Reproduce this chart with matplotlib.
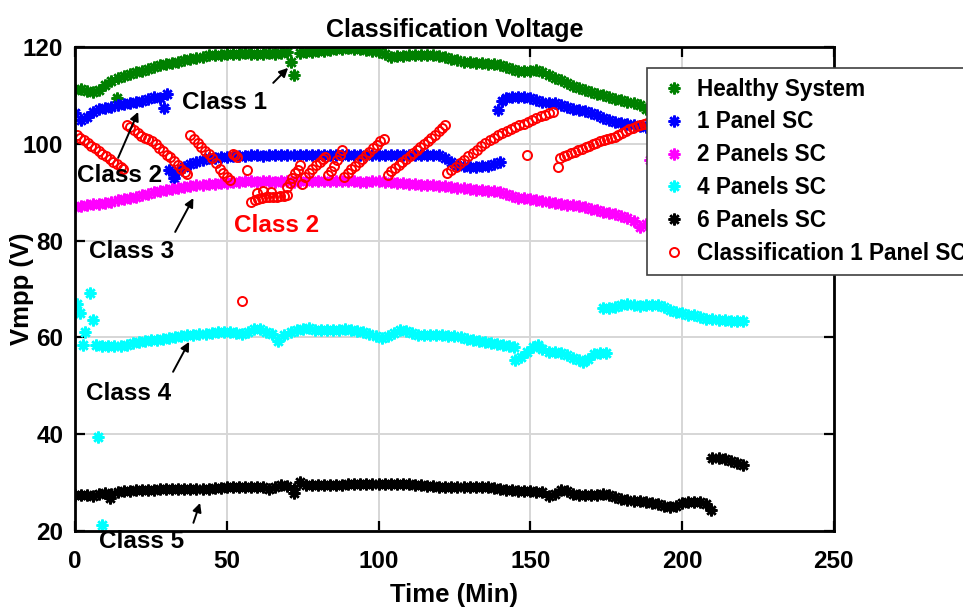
import numpy as np
import matplotlib
matplotlib.use("Agg")
import matplotlib.pyplot as plt

plt.rcParams['font.family'] = ['Liberation Sans', 'DejaVu Sans']
plt.rcParams['font.weight'] = 'bold'
plt.rcParams['axes.labelweight'] = 'bold'
plt.rcParams['axes.titleweight'] = 'bold'

# ---------------- data (Time in min, Vmpp in V) ----------------
green_t_a = np.arange(0, 71, 2)
green_v_a = [111.2, 111.4, 111.0, 110.7, 111.2, 112.2, 113.0, 113.6, 114.0, 114.5,
             114.8, 115.1, 115.4, 115.8, 116.3, 116.6, 116.7, 117.0, 117.3, 117.5,
             117.8, 118.0, 118.3, 118.4, 118.4, 118.6, 118.5, 118.6, 118.8, 118.6,
             118.5, 118.6, 118.7, 118.6, 118.8, 119.0]
green_t_b = np.arange(74, 221, 2)
green_v_b = [118.8, 118.9, 119.0, 119.1, 119.2, 119.3, 119.5, 119.7, 119.8, 119.7,
             119.5, 119.4, 119.2, 119.0, 118.6, 118.0, 118.1, 118.2, 118.3, 118.3,
             118.3, 118.4, 118.3, 118.1, 117.9, 117.6, 117.3, 117.0, 116.9, 116.8,
             116.7, 116.6, 116.4, 116.2, 115.9, 115.5, 115.1, 115.0, 115.1, 115.2,
             114.8, 114.2, 113.7, 113.1, 112.5, 112.0, 111.6, 111.1, 110.7, 110.3,
             110.0, 109.7, 109.3, 109.0, 108.7, 108.5, 108.0, 107.3, 107.0, 106.7,
             106.4, 106.1, 105.9, 105.7, 105.4, 105.2, 105.0, 104.8, 104.6, 104.4,
             104.2, 104.0, 103.9, 103.8]
green_t_c = [13.8, 71.0, 72.2]
green_v_c = [109.5, 117.0, 114.2]

blue_t_a = np.arange(0, 29, 2)
blue_v_a = [106.3, 105.0, 105.6, 106.6, 107.1, 107.4, 107.7, 108.0, 108.3, 108.5,
            108.7, 108.9, 109.2, 109.6, 109.5]
blue_t_x = [29.2, 30.4]
blue_v_x = [107.5, 110.4]
blue_t_b = np.concatenate([[31, 32.5], np.arange(34, 141, 2)])
blue_v_b = [94.6, 92.9,
            94.3, 95.3, 95.8, 96.2, 96.6, 97.0, 97.1, 97.2, 97.3, 97.4,
            97.5, 97.5, 97.6, 97.6, 97.5, 97.6, 97.7, 97.6, 97.6, 97.7,
            97.7, 97.8, 97.7, 97.7, 97.8, 97.7, 97.7, 97.8, 97.8, 97.8,
            97.7, 97.7, 97.8, 97.8, 97.8, 97.7, 97.8, 97.8, 97.8, 97.8,
            97.7, 97.7, 97.8, 97.7, 97.1, 96.2, 95.7, 95.4, 95.3, 95.2,
            95.4, 95.5, 95.8, 96.3]
blue_t_c = np.concatenate([[139.2, 140.6], np.arange(142, 221, 2)])
blue_v_c = [107.0, 108.8,
            109.5, 109.7, 109.7, 109.6, 109.5, 109.0, 108.6, 108.4, 108.4, 108.0,
            107.6, 107.2, 107.0, 106.7, 106.3, 105.9, 105.4, 105.0, 104.6, 104.3,
            104.1, 103.9, 103.7, 103.5, 103.4, 103.3, 103.2, 103.1, 103.0, 102.9,
            102.8, 102.8, 102.7, 102.7, 102.6, 102.6, 102.5, 102.5, 102.4, 102.4]

mag_t_a = np.arange(0, 189, 2)
mag_v_a = [87.0, 87.1, 87.3, 87.5, 87.6, 87.8, 88.0, 88.3, 88.6, 88.9,
           89.1, 89.4, 89.7, 90.0, 90.3, 90.5, 90.7, 90.9, 91.1, 91.3,
           91.4, 91.5, 91.7, 91.8, 91.9, 92.0, 92.2, 92.2, 92.3, 92.3,
           92.2, 92.3, 92.3, 92.2, 92.3, 92.3, 92.2, 92.3, 92.4, 92.3,
           92.3, 92.4, 92.3, 92.3, 92.3, 92.3, 92.3, 92.2, 92.2, 92.3,
           92.3, 92.2, 92.1, 92.0, 91.9, 91.8, 91.7, 91.6, 91.5, 91.4,
           91.3, 91.2, 91.1, 90.9, 90.8, 90.6, 90.5, 90.4, 90.3, 90.2,
           90.0, 89.6, 89.2, 88.9, 88.8, 88.6, 88.4, 88.2, 88.0, 87.8,
           87.6, 87.4, 87.3, 87.1, 86.9, 86.6, 86.3, 86.0, 85.8, 85.5,
           85.1, 84.7, 84.0, 82.8, 83.5]
mag_t_b = np.concatenate([[189.5], np.arange(192, 221, 2)])
mag_v_b = [96.7, 96.6, 96.5, 96.4, 96.3, 96.2, 96.1, 96.0, 95.9, 95.8,
           95.7, 95.6, 95.6, 95.5, 95.5, 95.4]

cyan_t_x = [0.6, 1.6, 2.7, 3.3, 4.9, 6.0, 7.7, 8.8]
cyan_v_x = [67.0, 65.0, 58.4, 61.2, 69.1, 63.6, 39.5, 21.2]
cyan_t_a = np.concatenate([np.arange(7, 144, 2), [144.5]])
cyan_v_a = [58.4, 58.2, 58.3, 58.2, 58.2, 58.5, 58.8, 59.0, 59.2, 59.4,
            59.5, 59.6, 59.8, 60.0, 60.3, 60.5, 60.6, 60.7, 60.8, 61.0,
            61.1, 61.2, 61.1, 61.0, 60.8, 61.2, 61.7, 61.8, 61.2, 60.7,
            59.2, 60.5, 61.2, 61.5, 61.8, 61.9, 61.6, 61.5, 61.6, 61.5,
            61.6, 61.7, 61.5, 61.4, 61.2, 60.8, 60.3, 59.9, 60.2, 61.0,
            61.5, 61.4, 61.0, 60.6, 60.5, 60.5, 60.6, 60.5, 60.3, 60.2,
            60.0, 59.7, 59.4, 59.2, 59.0, 58.8, 58.6, 58.5, 58.3, 58.1]
cyan_t_b = [145, 147, 149, 151, 152.5, 154, 156, 158, 160, 162, 164, 166,
            167.5, 169, 171, 173, 175]
cyan_v_b = [55.3, 56.0, 57.0, 58.0, 58.4, 57.6, 57.0, 56.9, 56.8, 56.3, 55.8,
            55.3, 55.0, 55.6, 56.6, 56.8, 56.7]
cyan_t_c = np.arange(174, 221, 2)
cyan_v_c = [66.0, 66.1, 66.3, 66.8, 67.0, 66.6, 66.5, 66.8, 66.8, 66.7,
            66.3, 65.6, 65.3, 65.0, 64.7, 64.6, 64.2, 63.9, 63.8, 63.7,
            63.6, 63.5, 63.4, 63.3]

black_t_a = np.arange(0, 209, 2)
black_v_a = [27.4, 27.5, 27.4, 27.3, 27.6, 27.9, 27.6, 28.0, 28.2, 28.3,
             28.4, 28.5, 28.5, 28.5, 28.6, 28.6, 28.6, 28.6, 28.7, 28.7,
             28.7, 28.7, 28.7, 28.8, 28.9, 29.1, 29.2, 29.2, 29.2, 29.2,
             29.2, 29.1, 28.7, 29.2, 29.6, 29.4, 28.6, 30.2, 29.6, 29.5,
             29.5, 29.6, 29.6, 29.5, 29.6, 29.7, 29.7, 29.7, 29.7, 29.7,
             29.8, 29.7, 29.7, 29.7, 29.7, 29.7, 29.6, 29.5, 29.4, 29.3,
             29.2, 29.2, 29.2, 29.2, 29.2, 29.2, 29.2, 29.1, 29.0, 28.8,
             28.7, 28.5, 28.4, 28.3, 28.3, 28.2, 28.1, 28.0, 27.3, 27.6,
             28.4, 28.2, 27.6, 27.4, 27.5, 27.5, 27.5, 27.6, 27.5, 27.0,
             26.6, 26.4, 26.3, 26.2, 26.0, 25.8, 25.6, 25.2, 25.0, 25.2,
             25.8, 26.0, 26.0, 26.0, 25.5]
black_t_x = [11.5, 72.0, 209.5]
black_v_x = [26.9, 27.9, 24.3]
black_t_b = np.arange(210, 221, 2)
black_v_b = [35.0, 35.1, 34.9, 34.5, 34.0, 33.7]

red_t = [0.6, 1.8, 3.0, 4.2, 5.4, 6.6, 7.8, 9.0, 10.2, 11.4, 12.6, 13.8, 15.0, 15.8,
         17.0, 18.2, 19.4, 20.6, 21.8, 23.0, 24.2, 25.4, 26.6, 27.8, 29.0, 30.2, 31.4,
         32.6, 33.8, 35.0, 36.2, 37.0,
         38.0, 39.2, 40.4, 41.6, 42.8, 44.0, 45.2, 46.4, 47.6, 48.8, 50.0, 51.0,
         52.0, 52.8, 53.5, 55.0, 56.5,
         58.0, 59.2, 60.4, 61.6, 62.8, 64.0, 65.2, 66.4, 67.6, 68.8, 70.0, 60.0, 62.0, 64.5,
         69.9, 70.8, 71.6, 72.5, 73.3, 74.2,
         74.9, 75.8, 77.0, 78.2, 79.4, 80.6, 81.6, 82.4,
         83.4, 84.4, 85.4, 86.4, 87.2, 88.0,
         88.6, 89.8, 91.0, 92.2, 93.4, 94.6, 95.8, 97.0, 98.2, 99.4, 100.6, 101.8,
         103.0, 104.2, 105.4, 106.6, 107.8, 109.0, 110.2, 111.4, 112.6, 113.8, 115.0,
         116.2, 117.4, 118.6, 119.8, 121.0, 122.0,
         122.6, 124.0, 125.4, 126.8, 128.2, 129.6, 131.0, 132.4, 133.8, 135.2, 136.6,
         138.0, 139.4, 140.8, 142.2, 143.6, 145.0, 146.4, 147.8, 149.2, 150.6, 152.0,
         153.4, 154.8, 156.2, 157.6, 149.0,
         159.2, 159.9, 161.0, 162.2, 163.4, 164.6, 165.8, 167.0, 168.2, 169.4, 170.6,
         171.8, 173.0, 174.2, 175.4, 176.6, 177.8, 179.0, 180.2, 181.4, 182.6, 183.8,
         185.0, 186.2, 187.4, 188.6]
red_v = [101.8, 101.3, 100.7, 100.2, 99.6, 99.1, 98.5, 98.0, 97.4, 96.9, 96.3, 95.8, 95.2, 94.9,
         103.9, 103.5, 102.9, 102.3, 101.7, 101.2, 100.9, 100.5, 99.9, 99.2, 98.5, 97.8, 97.3,
         96.4, 95.6, 94.9, 94.2, 93.8,
         101.8, 101.1, 100.2, 99.4, 98.6, 97.9, 97.0, 96.0, 94.8, 93.9, 93.2, 92.6,
         98.0, 97.6, 97.2, 67.6, 94.6,
         88.0, 88.3, 88.6, 88.9, 89.0, 89.0, 89.1, 89.1, 89.2, 89.3, 89.4, 89.9, 90.2, 90.0,
         91.1, 92.0, 92.9, 93.9, 94.7, 95.6,
         91.8, 93.2, 94.0, 94.8, 95.6, 96.3, 96.9, 97.3,
         93.6, 94.4, 95.5, 96.6, 97.7, 98.7,
         93.2, 94.0, 94.8, 95.5, 96.2, 96.9, 97.6, 98.4, 99.1, 99.8, 100.5, 101.0,
         93.6, 94.3, 95.0, 95.6, 96.2, 96.8, 97.4, 98.1, 98.7, 99.3, 99.9,
         100.6, 101.3, 101.9, 102.6, 103.2, 103.9,
         93.9, 94.6, 95.3, 96.0, 96.7, 97.4, 98.1, 98.8, 99.5, 100.1, 100.7,
         101.3, 101.8, 102.2, 102.6, 103.0, 103.4, 103.8, 104.2, 104.6, 105.0, 105.4,
         105.7, 106.0, 106.3, 106.6, 97.7,
         95.3, 97.0, 97.4, 97.8, 98.1, 98.4, 98.7, 99.0, 99.3, 99.6, 99.9,
         100.2, 100.5, 100.8, 101.0, 101.2, 101.5, 101.8, 102.2, 102.6, 103.0, 103.3,
         103.6, 103.9, 104.1, 104.3]

legend_labels = ["Healthy System", "1 Panel SC", "2 Panels SC", "4 Panels SC",
                 "6 Panels SC", "Classification 1 Panel SC"]

# class annotations: (text, text position, arrow tail, arrow head, colour)
class_text = ["Class 1", "Class 2", "Class 3", "Class 2", "Class 4", "Class 5"]
class_pos = [(49.4, 108.5), (14.8, 93.4), (18.5, 77.8), (66.5, 83.2), (17.5, 48.5), (21.8, 17.8)]
class_tail = [(65.3, 112.6), (14.2, 97.1), (33.0, 81.8), None, (32.3, 52.9), (39.0, 21.7)]
class_head = [(70.2, 115.7), (20.8, 106.6), (39.0, 88.8), None, (37.6, 59.1), (41.2, 25.8)]
class_col = ["k", "k", "k", "#ff0000", "k", "k"]

# ---------------- figure ----------------
fig = plt.figure(figsize=(9.63, 6.08), dpi=100)
ax = fig.add_axes([0.0779, 0.1266, 0.788, 0.796])

star = (8, 2, 0)
ms = 8.5
mew = 1.8

def stars(t, v, c):
    return ax.plot(t, v, linestyle='none', marker=star, ms=ms, mew=mew,
                   color=c, mec=c, mfc=c)[0]

h1 = stars(green_t_a, green_v_a, '#008000')
stars(green_t_b, green_v_b, '#008000')
stars(green_t_c, green_v_c, '#008000')
h2 = stars(blue_t_a, blue_v_a, '#0000ff')
stars(blue_t_x, blue_v_x, '#0000ff')
stars(blue_t_b, blue_v_b, '#0000ff')
stars(blue_t_c, blue_v_c, '#0000ff')
h3 = stars(mag_t_a, mag_v_a, '#ff00ff')
stars(mag_t_b, mag_v_b, '#ff00ff')
h4 = stars(cyan_t_x, cyan_v_x, '#00ffff')
stars(cyan_t_a, cyan_v_a, '#00ffff')
stars(cyan_t_b, cyan_v_b, '#00ffff')
stars(cyan_t_c, cyan_v_c, '#00ffff')
h5 = stars(black_t_a, black_v_a, 'k')
stars(black_t_x, black_v_x, 'k')
stars(black_t_b, black_v_b, 'k')
h6 = ax.plot(red_t, red_v, linestyle='none', marker='o', ms=6.5, mew=1.4,
             mfc='none', mec='#ff0000')[0]

ax.set_xlim(0, 250)
ax.set_ylim(20, 120)
ax.set_xticks([0, 50, 100, 150, 200, 250])
ax.set_yticks([20, 40, 60, 80, 100, 120])
ax.grid(True, color='#d6d6d6', linewidth=1.4)
ax.set_axisbelow(True)
for s in ax.spines.values():
    s.set_linewidth(2)
ax.tick_params(direction='in', top=True, right=True, length=7, width=1.6,
               labelsize=17.5)
ax.tick_params(axis='x', pad=13.5)
ax.tick_params(axis='y', pad=8.5)

ax.set_title("Classification Voltage", fontsize=18, fontweight='bold', pad=7)
ax.set_xlabel("Time (Min)", fontsize=18.5, fontweight='bold')
ax.set_ylabel("Vmpp (V)", fontsize=18.5, fontweight='bold')
ax.xaxis.set_label_coords(0.5, -0.107)
ax.yaxis.set_label_coords((34 - 75) / 759, 0.5)

for txt, pos, tail, head, col in zip(class_text, class_pos, class_tail, class_head, class_col):
    ax.text(pos[0], pos[1], txt, fontsize=17.5, fontweight='bold', color=col,
            ha='center', va='center', clip_on=False, zorder=5)
    if tail is not None:
        ax.annotate('', xy=head, xytext=tail,
                    arrowprops=dict(arrowstyle='-|>', color='k', lw=1.4,
                                    mutation_scale=13, shrinkA=0, shrinkB=0),
                    zorder=5)

leg = ax.legend([h1, h2, h3, h4, h5, h6], legend_labels,
                loc='upper left', bbox_to_anchor=(647 / 963, 1 - 68 / 608),
                bbox_transform=fig.transFigure, fontsize=16.3, numpoints=1,
                handlelength=1.55, handletextpad=0.25, borderpad=0.42,
                labelspacing=0.44, borderaxespad=0, frameon=True, fancybox=False,
                edgecolor='#404040', framealpha=1)
leg.get_frame().set_linewidth(1.2)
leg.set_zorder(10)

fig.savefig("out.png", dpi=100)
